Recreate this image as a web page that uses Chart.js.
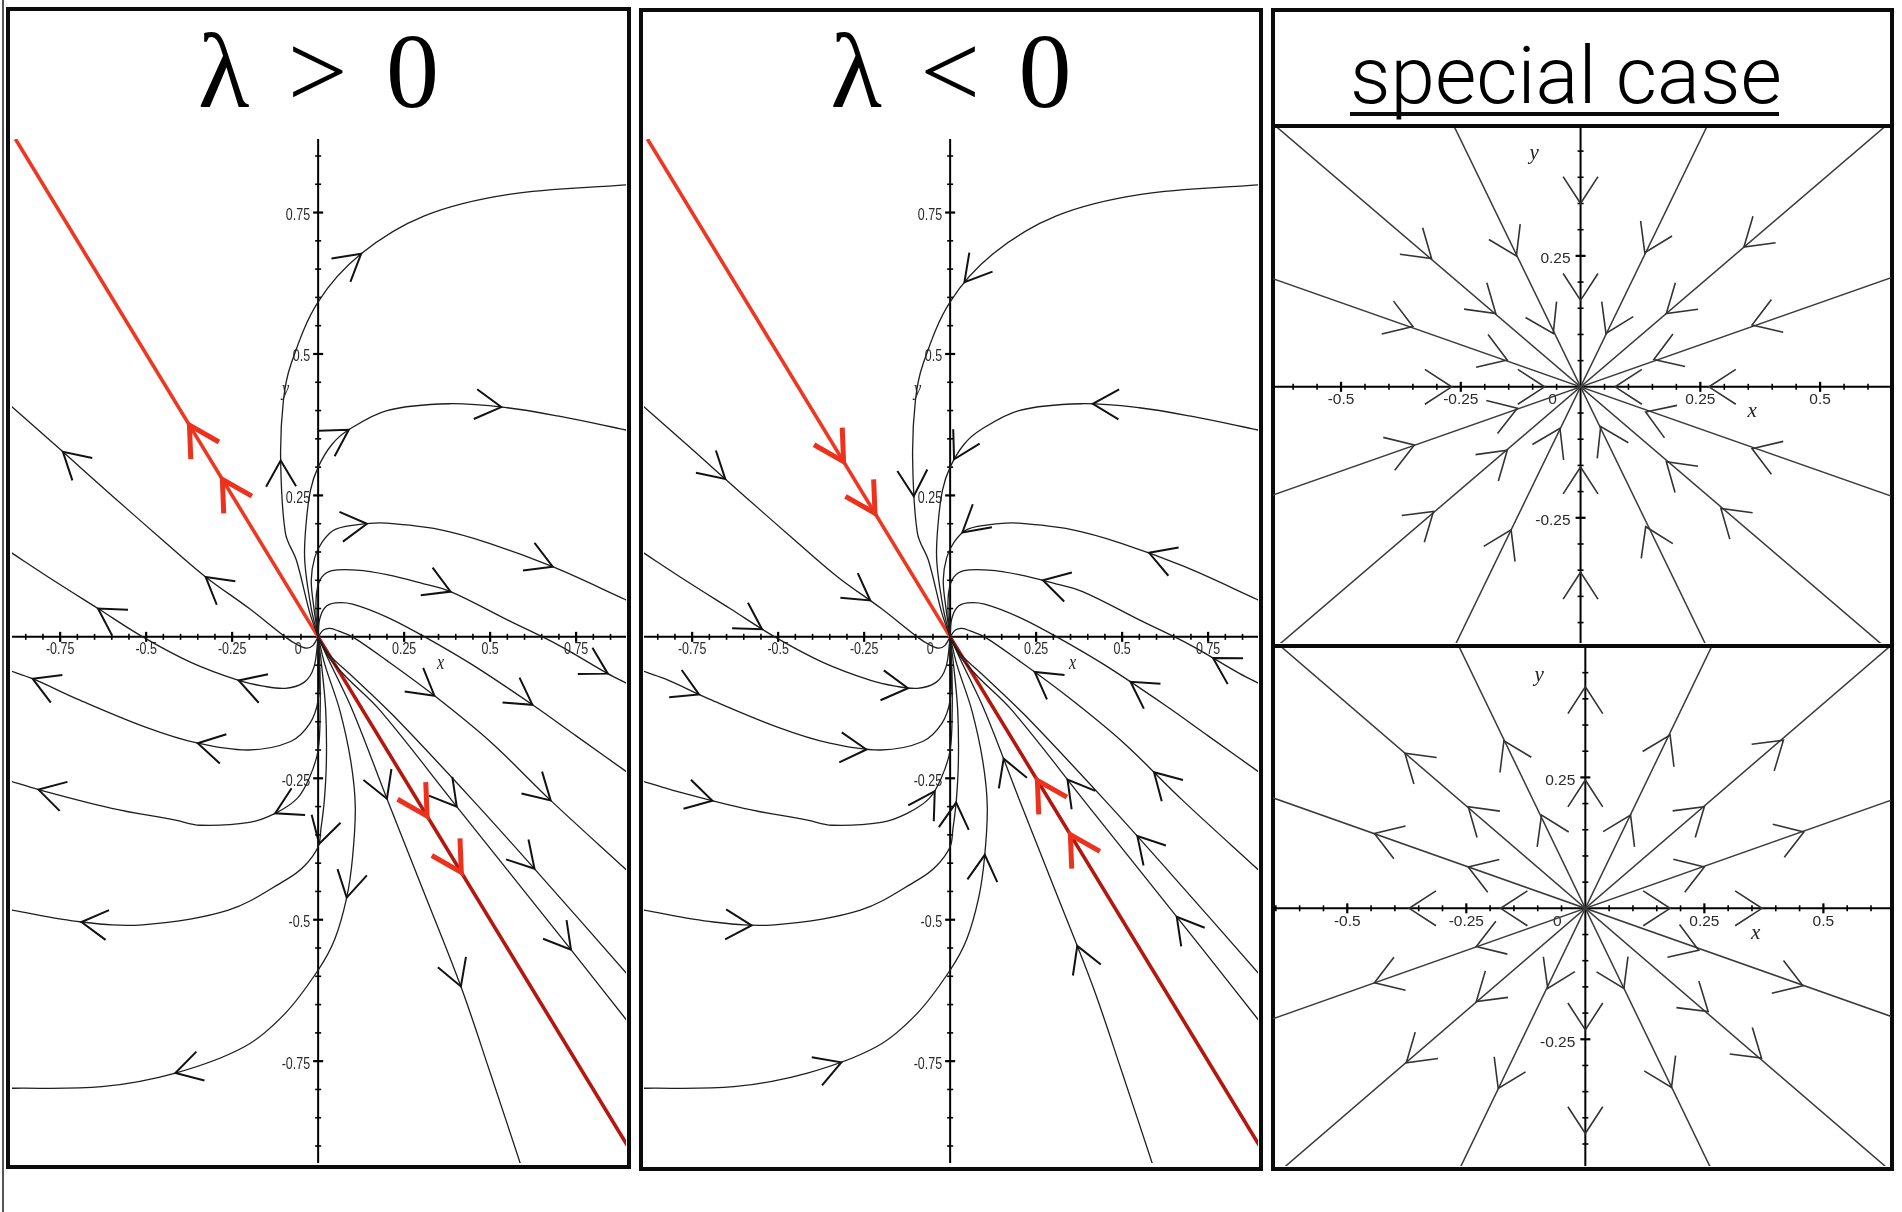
<!DOCTYPE html>
<html>
<head>
<meta charset="utf-8">
<script src="https://cdn.jsdelivr.net/npm/chart.js@4.4.0/dist/chart.umd.min.js"></script>
<style>
  body { margin: 0; background: #fff; width: 1902px; height: 1212px; position: relative; overflow: hidden; }
  .box { position: absolute; border: 4px solid #0b0b0b; box-sizing: border-box; }
  .rule { position: absolute; background: #0b0b0b; z-index: 3; }
  .plot { position: absolute; z-index: 2; }
  .title { position: absolute; text-align: center; white-space: nowrap; color: #000; }
  .greek { font-family: "Liberation Serif", "Times New Roman", Times, "DejaVu Serif", serif; font-size: 106px; line-height: 106px; word-spacing: 12px; }
  .special { font-family: Roboto, "Liberation Sans", sans-serif; font-weight: 300; font-size: 80px; line-height: 80px; text-align: left; }
</style>
</head>
<body>
<div class="rule" style="left:2px;top:0;width:1.5px;height:1212px;background:#555"></div>

<div class="box" style="left:6px;top:7px;width:625px;height:1162px"></div>
<div class="box" style="left:639px;top:8px;width:624px;height:1163px"></div>
<div class="box" style="left:1271px;top:8px;width:623px;height:1163px"></div>
<div class="rule" style="left:1271px;top:124px;width:623px;height:4px"></div>
<div class="rule" style="left:1271px;top:644px;width:623px;height:4px"></div>

<div class="title greek" style="left:6px;top:19px;width:625px">λ &gt; 0</div>
<div class="title greek" style="left:639px;top:19px;width:624px">λ &lt; 0</div>
<div class="title special" style="left:1350px;top:36px">special case</div>
<div class="rule" style="left:1350px;top:112px;width:429px;height:4px"></div>

<canvas class="plot" id="grow" width="614" height="1024" style="left:12px;top:139px"></canvas>
<canvas class="plot" id="decay" width="614" height="1024" style="left:644px;top:139px"></canvas>
<canvas class="plot" id="starIn" width="618" height="516" style="left:1273px;top:127px"></canvas>
<canvas class="plot" id="starOut" width="618" height="519" style="left:1273px;top:647px"></canvas>

<script>
// ---------------------------
// Tick labels
// ---------------------------
const nodeXTicks = [-0.75, -0.5, -0.25, 0, 0.25, 0.5, 0.75];
const nodeYTicks = [0.75, 0.5, 0.25, -0.25, -0.5, -0.75];
const starXTicks = [-0.5, -0.25, 0, 0.25, 0.5];
const starYTicks = [0.25, -0.25];

// ---------------------------
// Trajectories of the repeated-eigenvalue node, origin outward
// ---------------------------
const redUp = [[0, 0], [-0.88, 0.88]];
const redDown = [[0, 0], [0.9, -0.9]];

const curveA1 = [[0, 0], [-0.024, 0.042], [-0.063, 0.135], [-0.095, 0.183], [-0.109, 0.315], [-0.101, 0.418], [-0.079, 0.482], [0, 0.592], [0.125, 0.677], [0.309, 0.744], [0.555, 0.782], [0.9, 0.799]];
const curveA2 = [[0, 0], [-0.02, 0.05], [-0.039, 0.135], [-0.035, 0.2], [-0.022, 0.26], [0, 0.3], [0.04, 0.34], [0.089, 0.366], [0.2, 0.4], [0.38, 0.412], [0.55, 0.405], [0.7, 0.39], [0.9, 0.365]];
const curveA3 = [[0, 0], [-0.012, 0.05], [-0.02, 0.1], [-0.01, 0.14], [0.012, 0.168], [0.05, 0.19], [0.142, 0.2], [0.2, 0.201], [0.35, 0.19], [0.5, 0.165], [0.682, 0.124], [0.9, 0.064]];
const curveA4 = [[0, 0], [-0.006, 0.04], [-0.004, 0.08], [0.01, 0.105], [0.04, 0.117], [0.112, 0.118], [0.2, 0.11], [0.3, 0.095], [0.385, 0.08], [0.55, 0.03], [0.7, -0.015], [0.842, -0.065], [0.9, -0.083]];
const curveA5 = [[0, 0], [0.004, 0.03], [0.02, 0.052], [0.05, 0.06], [0.1, 0.058], [0.2, 0.035], [0.31, 0], [0.45, -0.05], [0.623, -0.12], [0.75, -0.175], [0.9, -0.24]];
const curveA6 = [[0, 0], [0.015, 0.012], [0.035, 0.015], [0.06, 0.01], [0.1, 0], [0.2, -0.042], [0.338, -0.104], [0.5, -0.185], [0.676, -0.289], [0.9, -0.414]];
const curveR1 = [[0, 0], [0.03, -0.03], [0.1, -0.07], [0.22, -0.14], [0.45, -0.289], [0.629, -0.41], [0.9, -0.597]];
const curveR2 = [[0, 0], [0.03, -0.035], [0.08, -0.07], [0.18, -0.13], [0.403, -0.3], [0.735, -0.553], [0.9, -0.68]];
const curveL7 = [[0, 0], [0.03, -0.04], [0.1, -0.13], [0.2, -0.286], [0.3, -0.44], [0.415, -0.618], [0.5, -0.77], [0.59, -0.935]];
const curveL6 = [[0, 0], [0.02, -0.05], [0.063, -0.13], [0.095, -0.22], [0.108, -0.3], [0.1, -0.39], [0.083, -0.461], [0.048, -0.535], [0, -0.589], [-0.095, -0.665], [-0.213, -0.724], [-0.415, -0.771], [-0.629, -0.795], [-0.9, -0.798]];
const curveL5 = [[0, 0], [0.01, -0.05], [0.022, -0.13], [0.024, -0.22], [0.018, -0.289], [0.008, -0.34], [0, -0.371], [-0.04, -0.405], [-0.095, -0.43], [-0.261, -0.483], [-0.51, -0.509], [-0.688, -0.504], [-0.9, -0.482]];
const curveL4 = [[0, 0], [0.005, -0.06], [0.006, -0.13], [0, -0.2], [-0.024, -0.247], [-0.06, -0.285], [-0.125, -0.312], [-0.2, -0.328], [-0.344, -0.333], [-0.415, -0.324], [-0.6, -0.303], [-0.813, -0.27], [-0.9, -0.254]];
const curveL3 = [[0, 0], [0.004, -0.05], [0, -0.112], [-0.024, -0.153], [-0.08, -0.185], [-0.202, -0.2], [-0.35, -0.188], [-0.5, -0.16], [-0.7, -0.11], [-0.83, -0.074], [-0.9, -0.059]];
const curveL2 = [[0, 0], [-0.012, -0.053], [-0.04, -0.08], [-0.095, -0.091], [-0.16, -0.087], [-0.231, -0.077], [-0.37, -0.045], [-0.51, 0], [-0.64, 0.05], [-0.77, 0.1], [-0.9, 0.152]];
const curveL1 = [[0, 0], [-0.015, -0.015], [-0.033, -0.02], [-0.06, -0.014], [-0.096, 0], [-0.2, 0.05], [-0.327, 0.106], [-0.45, 0.17], [-0.6, 0.25], [-0.742, 0.327], [-0.9, 0.412]];

// arrow heads: [curve, x, y]
const growRedArrows = [['redUp', -0.378, 0.376], ['redUp', -0.284, 0.282], ['redDown', 0.315, -0.31], ['redDown', 0.41, -0.404]];
const growArrows = [
  ['A1', 0.124, 0.677], ['A1', -0.109, 0.31], ['A2', 0.089, 0.366], ['A2', 0.534, 0.41],
  ['A3', 0.142, 0.2], ['A3', 0.682, 0.124], ['A4', 0.385, 0.08], ['A4', 0.842, -0.065],
  ['A5', 0.623, -0.12], ['A6', 0.338, -0.104], ['A6', 0.676, -0.289], ['R1', 0.629, -0.41],
  ['R2', 0.403, -0.3], ['R2', 0.735, -0.553], ['L7', 0.2, -0.286], ['L7', 0.415, -0.618],
  ['L6', 0.083, -0.461], ['L6', -0.415, -0.771], ['L5', 0.006, -0.366], ['L5', -0.688, -0.504],
  ['L4', -0.125, -0.312], ['L4', -0.813, -0.27], ['L3', -0.35, -0.188], ['L3', -0.83, -0.074],
  ['L2', -0.64, 0.05], ['L2', -0.231, -0.077], ['L1', -0.742, 0.327], ['L1', -0.327, 0.106]
];
const decayRedArrows = [['redUp', -0.308, 0.306], ['redUp', -0.213, 0.215], ['redDown', 0.237, -0.241], ['redDown', 0.338, -0.336]];
const decayArrows = [
  ['A1', 0.036, 0.63], ['A1', -0.107, 0.25], ['A2', 0.006, 0.315], ['A2', 0.415, 0.418],
  ['A3', 0.042, 0.18], ['A3', 0.576, 0.148], ['A4', 0.273, 0.106], ['A4', 0.765, -0.038],
  ['A5', 0.526, -0.08], ['A6', 0.243, -0.065], ['A6', 0.587, -0.243], ['R1', 0.546, -0.35],
  ['R2', 0.344, -0.253], ['R2', 0.656, -0.496], ['L7', 0.154, -0.215], ['L7', 0.362, -0.548],
  ['L6', 0.107, -0.386], ['L6', -0.315, -0.757], ['L5', 0.04, -0.294], ['L5', -0.578, -0.514],
  ['L4', -0.035, -0.277], ['L4', -0.697, -0.301], ['L3', -0.245, -0.203], ['L3', -0.736, -0.112],
  ['L2', -0.124, -0.094], ['L2', -0.546, 0.013], ['L1', -0.237, 0.062], ['L1', -0.653, 0.28]
];

// ---------------------------
// Star node rays and arrow heads
// ---------------------------
const starRays = [
  [[-0.665, 0.52], [0.665, -0.52]],
  [[-0.276, 0.52], [0.276, -0.52]],
  [[0.276, 0.52], [-0.276, -0.52]],
  [[0.665, 0.52], [-0.665, -0.52]],
  [[-0.7, 0.225], [0.7, -0.225]],
  [[0.7, 0.225], [-0.7, -0.225]]
];
const starInArrows = [
  [0, 0.35], [0, 0.165], [0, -0.153], [0, -0.354],
  [-0.269, 0], [-0.075, 0], [0.072, 0], [0.268, 0],
  [-0.311, 0.245], [-0.177, 0.14], [0.179, -0.143], [0.293, -0.232],
  [-0.134, 0.25], [-0.057, 0.102], [0.042, -0.076], [0.136, -0.267],
  [0.134, 0.256], [0.053, 0.102], [-0.043, -0.079], [-0.145, -0.273],
  [0.341, 0.267], [0.179, 0.14], [-0.153, -0.121], [-0.307, -0.238],
  [-0.35, 0.115], [-0.153, 0.051], [0.136, -0.048], [0.358, -0.118],
  [0.358, 0.118], [0.153, 0.052], [-0.132, -0.041], [-0.347, -0.111]
];
const starOutArrows = [
  [0, 0.423], [0, 0.245], [0, -0.232], [0, -0.43],
  [-0.37, 0], [-0.178, 0], [0.178, 0], [0.371, 0],
  [-0.246, 0.194], [-0.379, 0.296], [0.258, -0.197], [0.37, -0.286],
  [-0.092, 0.178], [-0.171, 0.32], [0.081, -0.153], [0.181, -0.342],
  [0.095, 0.178], [0.178, 0.331], [-0.079, -0.153], [-0.183, -0.344],
  [0.25, 0.194], [0.416, 0.321], [-0.229, -0.178], [-0.376, -0.295],
  [-0.443, 0.143], [-0.246, 0.079], [0.238, -0.08], [0.457, -0.148],
  [0.25, 0.079], [0.459, 0.146], [-0.229, -0.073], [-0.443, -0.142]
];

const nodeCurves = [
  ['A1', curveA1], ['A2', curveA2], ['A3', curveA3], ['A4', curveA4], ['A5', curveA5], ['A6', curveA6],
  ['R1', curveR1], ['R2', curveR2], ['L7', curveL7], ['L6', curveL6], ['L5', curveL5], ['L4', curveL4],
  ['L3', curveL3], ['L2', curveL2], ['L1', curveL1]
];

// ---------------------------
// Axes drawn through the origin
// ---------------------------
const crossAxes = {
  id: 'crossAxes',
  beforeDatasetsDraw(chart, args, o) {
    const { ctx, chartArea: a, scales: { x, y } } = chart;
    const x0 = x.getPixelForValue(0), y0 = y.getPixelForValue(0);
    ctx.save();
    ctx.strokeStyle = '#000';
    ctx.lineWidth = 2;
    ctx.beginPath();
    ctx.moveTo(a.left, y0); ctx.lineTo(a.right, y0);
    ctx.moveTo(x0, a.top); ctx.lineTo(x0, a.bottom);
    ctx.stroke();

    const ticks = (scale, horiz) => {
      const from = Math.ceil(scale.min / 0.05), to = Math.floor(scale.max / 0.05);
      for (let k = from; k <= to; k++) {
        if (k === 0) continue;
        const major = k % 5 === 0;
        const p = scale.getPixelForValue(k * 0.05);
        const h = major ? o.majorLen : o.minorLen;
        ctx.lineWidth = major ? 2.2 : 1.6;
        ctx.beginPath();
        if (horiz) { ctx.moveTo(p, y0 - h); ctx.lineTo(p, y0 + h); }
        else { ctx.moveTo(x0 - h, p); ctx.lineTo(x0 + h, p); }
        ctx.stroke();
      }
    };
    ticks(x, true);
    ticks(y, false);

    const text = (s, px, py, align) => {
      ctx.save();
      ctx.translate(px, py);
      ctx.scale(1, o.stretch);
      ctx.textAlign = align;
      ctx.textBaseline = 'middle';
      ctx.fillText(s, 0, 0);
      ctx.restore();
    };
    ctx.fillStyle = '#2a2a2a';
    ctx.font = o.font;
    o.xTicks.forEach(v => {
      const px = v === 0 ? x0 + o.zeroDx : x.getPixelForValue(v);
      text(String(v), px, y0 + o.labelDy, 'center');
    });
    o.yTicks.forEach(v => text(String(v), x0 - o.labelDx, y.getPixelForValue(v) + 3, 'right'));

    ctx.fillStyle = '#222';
    ctx.font = o.titleFont;
    text('x', x.getPixelForValue(o.xTitle[0]), y.getPixelForValue(o.xTitle[1]), 'center');
    text('y', x.getPixelForValue(o.yTitle[0]), y.getPixelForValue(o.yTitle[1]), 'center');
    ctx.restore();
  }
};

// ---------------------------
// Chevron arrow heads on the curves
// ---------------------------
function curveSamples(meta) {
  const pts = meta.data, out = [];
  for (let i = 0; i < pts.length - 1; i++) {
    const p0 = pts[i], p1 = pts[i + 1];
    const c1x = p0.cp2x ?? p0.x, c1y = p0.cp2y ?? p0.y;
    const c2x = p1.cp1x ?? p1.x, c2y = p1.cp1y ?? p1.y;
    for (let s = 0; s < 40; s++) {
      const t = s / 40, u = 1 - t;
      out.push([
        u * u * u * p0.x + 3 * u * u * t * c1x + 3 * u * t * t * c2x + t * t * t * p1.x,
        u * u * u * p0.y + 3 * u * u * t * c1y + 3 * u * t * t * c2y + t * t * t * p1.y
      ]);
    }
  }
  const last = pts[pts.length - 1];
  out.push([last.x, last.y]);
  return out;
}

function drawChevron(ctx, tip, dir, st) {
  const n = Math.hypot(dir[0], dir[1]) || 1;
  const vx = -dir[0] / n, vy = -dir[1] / n;
  const a = st.angle * Math.PI / 180;
  const arm = sg => [
    tip[0] + st.len * (vx * Math.cos(a) - vy * Math.sin(a) * sg),
    tip[1] + st.len * (vx * Math.sin(a) * sg + vy * Math.cos(a))
  ];
  const p1 = arm(1), p2 = arm(-1);
  ctx.save();
  ctx.strokeStyle = st.color;
  ctx.lineWidth = st.width;
  ctx.lineJoin = 'miter';
  ctx.beginPath();
  ctx.moveTo(p1[0], p1[1]);
  ctx.lineTo(tip[0], tip[1]);
  ctx.lineTo(p2[0], p2[1]);
  ctx.stroke();
  ctx.restore();
}

const chevrons = {
  id: 'chevrons',
  afterDatasetsDraw(chart, args, o) {
    const { ctx, scales: { x, y } } = chart;
    const x0 = x.getPixelForValue(0), y0 = y.getPixelForValue(0);
    o.groups.forEach(g => {
      g.items.forEach(item => {
        if (g.radial) {
          const px = x.getPixelForValue(item[0]), py = y.getPixelForValue(item[1]);
          drawChevron(ctx, [px, py], [(px - x0) * g.sign, (py - y0) * g.sign], g.style);
          return;
        }
        const idx = chart.data.datasets.findIndex(d => d.label === item[0]);
        const s = curveSamples(chart.getDatasetMeta(idx));
        const px = x.getPixelForValue(item[1]), py = y.getPixelForValue(item[2]);
        let best = 0, bd = Infinity;
        s.forEach((p, i) => {
          const d = (p[0] - px) ** 2 + (p[1] - py) ** 2;
          if (d < bd) { bd = d; best = i; }
        });
        const a = s[Math.max(0, best - 2)], b = s[Math.min(s.length - 1, best + 2)];
        drawChevron(ctx, s[best], [(b[0] - a[0]) * g.sign, (b[1] - a[1]) * g.sign], g.style);
      });
    });
  }
};

// ---------------------------
// Chart builders
// ---------------------------
const blackHead = { color: '#111', width: 2, len: 30, angle: 30 };
const redHead = { color: '#ec321c', width: 5, len: 34, angle: 29 };
const starHead = { color: '#333', width: 1.6, len: 32, angle: 33 };

function lineSet(label, pts, color, width, tension) {
  return {
    label,
    data: pts.map(p => ({ x: p[0], y: p[1] })),
    showLine: true,
    borderColor: color,
    borderWidth: width,
    pointRadius: 0,
    tension,
    fill: false
  };
}

function baseOptions(xr, yr, axes, groups) {
  return {
    responsive: false,
    animation: false,
    events: [],
    layout: { padding: 0 },
    scales: {
      x: { type: 'linear', min: xr[0], max: xr[1], display: false },
      y: { type: 'linear', min: yr[0], max: yr[1], display: false }
    },
    plugins: {
      legend: { display: false },
      tooltip: { enabled: false },
      crossAxes: axes,
      chevrons: { groups }
    }
  };
}

function nodeChart(id, sign, arrows, redArrows) {
  const datasets = nodeCurves.map(([name, pts]) => lineSet(name, pts, '#1e1e1e', 1.3, 0.35));
  datasets.push(lineSet('redUp', redUp, '#ef3620', 3.6, 0));
  datasets.push(lineSet('redDown', redDown, '#b5170f', 3.6, 0));
  new Chart(document.getElementById(id), {
    type: 'scatter',
    data: { datasets },
    options: baseOptions([-0.89, 0.895], [-0.93, 0.88], {
      xTicks: nodeXTicks, yTicks: nodeYTicks,
      font: '12.5px "Liberation Sans", Arial, sans-serif', stretch: 1.3,
      titleFont: 'italic 16px "Liberation Serif", serif',
      majorLen: 5, minorLen: 3, labelDy: 13, labelDx: 8, zeroDx: -20,
      xTitle: [0.356, -0.047], yTitle: [-0.095, 0.438]
    }, [
      { items: arrows, sign, style: blackHead },
      { items: redArrows, sign, style: redHead }
    ]),
    plugins: [crossAxes, chevrons]
  });
}

function starChart(id, sign, arrows, xr, yr) {
  const datasets = starRays.map((r, i) => lineSet('S' + (i + 1), r, '#3a3a3a', 1.5, 0));
  new Chart(document.getElementById(id), {
    type: 'scatter',
    data: { datasets },
    options: baseOptions(xr, yr, {
      xTicks: starXTicks, yTicks: starYTicks,
      font: '15.5px "Liberation Sans", Arial, sans-serif', stretch: 1,
      titleFont: 'italic 21px "Liberation Serif", serif',
      majorLen: 5, minorLen: 3, labelDy: 13, labelDx: 10, zeroDx: -28,
      xTitle: [0.358, -0.048], yTitle: [-0.097, 0.445]
    }, [
      { items: arrows, sign, radial: true, style: starHead }
    ]),
    plugins: [crossAxes, chevrons]
  });
}

nodeChart('grow', 1, growArrows, growRedArrows);
nodeChart('decay', -1, decayArrows, decayRedArrows);
starChart('starIn', -1, starInArrows, [-0.642, 0.648], [-0.489, 0.496]);
starChart('starOut', 1, starOutArrows, [-0.656, 0.642], [-0.492, 0.499]);
</script>
</body>
</html>
